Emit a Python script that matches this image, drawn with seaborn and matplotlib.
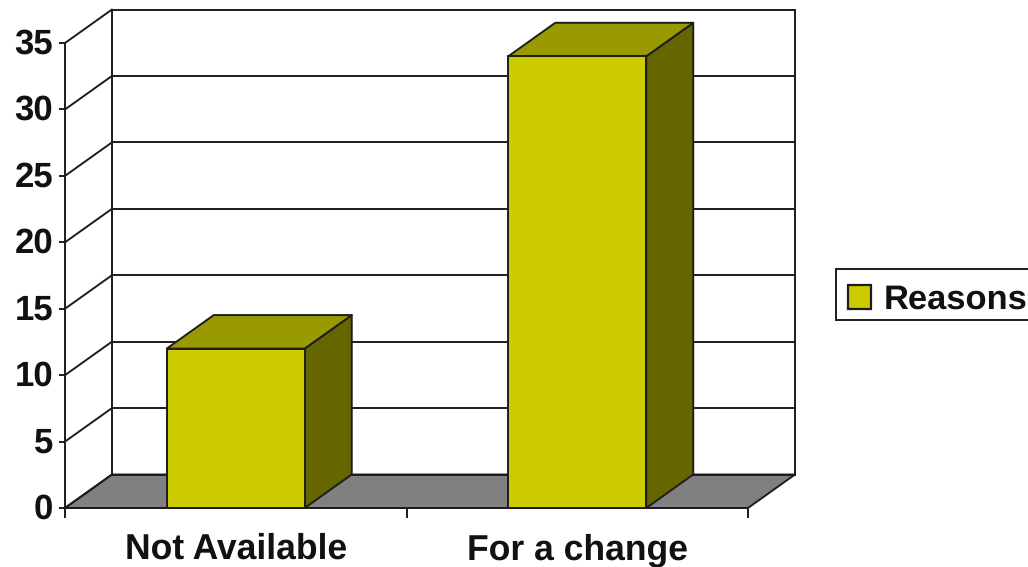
import matplotlib
matplotlib.use("Agg")
import matplotlib.pyplot as plt
from matplotlib.patches import Patch, Polygon, Rectangle
from matplotlib.transforms import ScaledTranslation
import pandas as pd
import seaborn as sns

# Survey responses
categories = ["Not Available", "For a change"]
reasons = [12, 34]
series_name = "Reasons"
y_ticks = [0, 5, 10, 15, 20, 25, 30, 35]

FRONT = "#CCCC00"
TOP = "#999900"
SIDE = "#666600"
FLOOR = "#808080"
LINE = "#1c1c1c"
LW = 1.4

W, H = 1028, 567
sns.set_theme(style="white")
plt.rcParams["font.family"] = ["Liberation Sans", "DejaVu Sans"]
plt.rcParams["font.weight"] = "bold"
plt.rcParams["text.hinting"] = "no_hinting"

fig = plt.figure(figsize=(W / 100, H / 100), dpi=100, facecolor="white")
ax = fig.add_axes([65 / W, 1 - 508 / H, 683 / W, 465 / H])
ax.patch.set_alpha(0)

df = pd.DataFrame({"reason": categories, series_name: reasons})
sns.barplot(data=df, x="reason", y=series_name, color=FRONT, saturation=1,
            width=0.404, edgecolor=LINE, linewidth=LW, ax=ax, zorder=3)

ax.set_xlim(-0.5, 1.5)
ax.set_ylim(0, 35)

# Oblique projection offset of the chart depth, in data units
DX = 47 / 341.5
DY = 33.5 / (465 / 35)


def face(points, color, z):
    ax.add_patch(Polygon(points, closed=True, facecolor=color, edgecolor=LINE,
                         linewidth=LW, clip_on=False, zorder=z, joinstyle="round"))


x0, x1 = ax.get_xlim()

# Floor of the chart box
face([(x0, 0), (x1, 0), (x1 + DX, DY), (x0 + DX, DY)], FLOOR, 0.5)

# Gridlines running across the back wall and along the left wall
for v in y_ticks:
    ax.plot([x0 + DX, x1 + DX], [v + DY, v + DY], color=LINE, lw=LW,
            clip_on=False, zorder=0.8, solid_capstyle="projecting")
    ax.plot([x0, x0 + DX], [v, v + DY], color=LINE, lw=LW,
            clip_on=False, zorder=0.8)
for x in (x0 + DX, x1 + DX):
    ax.plot([x, x], [DY, y_ticks[-1] + DY], color=LINE, lw=LW,
            clip_on=False, zorder=0.8, solid_capstyle="projecting")

# Extrude each bar into a box
for bar in ax.patches[:len(categories)]:
    bx, bw, bh = bar.get_x(), bar.get_width(), bar.get_height()
    face([(bx + bw, 0), (bx + bw + DX, DY), (bx + bw + DX, bh + DY), (bx + bw, bh)], SIDE, 2)
    face([(bx, bh), (bx + bw, bh), (bx + bw + DX, bh + DY), (bx + DX, bh + DY)], TOP, 2)

# Axes
sns.despine(ax=ax, top=True, right=True)
for side in ("left", "bottom"):
    ax.spines[side].set_color(LINE)
    ax.spines[side].set_linewidth(LW)
ax.set_xlabel("")
ax.set_ylabel("")
ax.set_yticks(y_ticks)
ax.set_xticks([x0, 0.5, x1], minor=True)
ax.tick_params(axis="y", which="major", left=True, length=4.5, width=LW, color=LINE,
               labelsize=25, labelcolor="#111111", pad=4)
ax.tick_params(axis="x", which="major", bottom=False, labelsize=25.6,
               labelcolor="#111111", pad=12)
ax.tick_params(axis="x", which="minor", bottom=True, length=7, width=LW, color=LINE)
nudge = ScaledTranslation(0, 2 / 100, fig.dpi_scale_trans)
for label in ax.get_yticklabels():
    label.set_fontweight("bold")
    label.set_transform(label.get_transform() + nudge)
for label in ax.get_xticklabels():
    label.set_fontweight("bold")

# Legend frame runs past the right edge of the figure
fig.add_artist(Rectangle((836 / W, 1 - 320 / H), 210 / W, 51 / H, transform=fig.transFigure,
                         facecolor="white", edgecolor=LINE, linewidth=LW, zorder=-1))
ax.legend(
    handles=[Patch(facecolor=FRONT, edgecolor=LINE, linewidth=1.6, label=series_name)],
    loc="lower left", bbox_to_anchor=(836 / W, 1 - 328 / H), bbox_transform=fig.transFigure,
    borderaxespad=0, frameon=False,
    prop={"size": 24.8, "weight": "bold"}, labelcolor="#111111",
    handlelength=0.67, handleheight=0.67, handletextpad=0.35, borderpad=0.35,
)

fig.savefig("out.png", dpi=100, facecolor="white")
